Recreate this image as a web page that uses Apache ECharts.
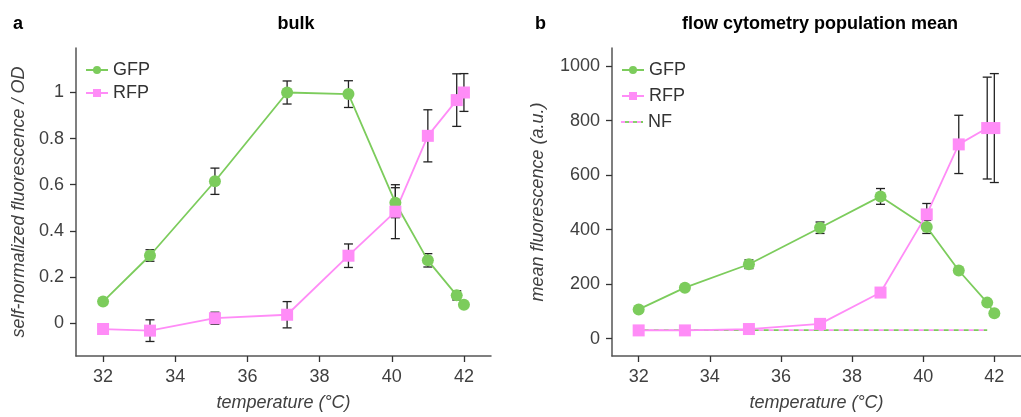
<!DOCTYPE html>
<html>
<head>
<meta charset="utf-8">
<script src="https://cdn.jsdelivr.net/npm/echarts@6/dist/echarts.min.js"></script>
<style>
html,body{margin:0;padding:0;background:#fff;}
#chart{width:1021px;height:417px;}
</style>
</head>
<body>
<div id="chart"></div>
<script>
// ---- data ----
const temps = [32, 33.3, 35.1, 37.1, 38.8, 40.1, 41.0, 41.8, 42.0];
const bulkGFP = [0.093, 0.293, 0.615, 1.0, 0.993, 0.522, 0.272, 0.12, 0.079];
const bulkGFPerr = [0.008, 0.025, 0.057, 0.05, 0.058, 0.065, 0.029, 0.02, 0.008];
const bulkRFP = [-0.026, -0.033, 0.021, 0.036, 0.292, 0.483, 0.812, 0.967, 1.0];
const bulkRFPerr = [0.015, 0.047, 0.026, 0.057, 0.051, 0.117, 0.113, 0.114, 0.082];
const flowGFP = [107, 187, 273, 407, 522, 410, 250, 132, 93];
const flowGFPerr = [5, 5, 16, 21, 29, 24, 8, 8, 5];
const flowRFP = [30, 30, 35, 54, 169, 456, 713, 773, 773];
const flowRFPerr = [6, 6, 6, 8, 15, 40, 107, 187, 200];
const nfTemps = [32, 33.3, 35.1, 37.1, 38.8, 40.1, 41.0, 41.8];
const nfGFP = [31, 31, 31, 31, 31, 31, 31, 31];
const nfRFP = [31, 31, 31, 31, 31, 31, 31, 31];
const xTicks = [32, 34, 36, 38, 40, 42];
const yTicksBulk = [0, 0.2, 0.4, 0.6, 0.8, 1];
const yTicksFlow = [0, 200, 400, 600, 800, 1000];

const GREEN = '#7ccc5c';
const PINK = '#ff8cf7';
const FONT = "'Liberation Sans', Arial, Helvetica, sans-serif";

const pairs = (xs, ys) => xs.map((x, i) => [x, ys[i]]);
const errs = (xs, ys, es) => xs.map((x, i) => [x, ys[i] - es[i], ys[i] + es[i]]);

function errRender(params, api) {
  const x = api.value(0), lo = api.value(1), hi = api.value(2);
  const p1 = api.coord([x, lo]), p2 = api.coord([x, hi]);
  const w = 4.5;
  const st = {stroke: '#222', lineWidth: 1.3};
  return {
    type: 'group',
    children: [
      {type: 'line', shape: {x1: p1[0], y1: p1[1], x2: p2[0], y2: p2[1]}, style: st},
      {type: 'line', shape: {x1: p1[0] - w, y1: p1[1], x2: p1[0] + w, y2: p1[1]}, style: st},
      {type: 'line', shape: {x1: p2[0] - w, y1: p2[1], x2: p2[0] + w, y2: p2[1]}, style: st}
    ]
  };
}

function xAxisCfg(gi) {
  return {
    type: 'value', gridIndex: gi, min: 31.25, max: 42.75,
    name: 'temperature (°C)', nameLocation: 'middle', nameGap: 38,
    nameTextStyle: {fontFamily: FONT, fontSize: 18, fontStyle: 'italic', color: '#404040'},
    axisLine: {show: true, onZero: false, lineStyle: {color: '#555', width: 1.5}},
    axisTick: {show: true, length: 6, customValues: xTicks, lineStyle: {color: '#333', width: 1.3}},
    axisLabel: {customValues: xTicks, margin: 12, fontFamily: FONT, fontSize: 18, color: '#404040',
                formatter: v => String(v)},
    splitLine: {show: false}
  };
}
function yAxisCfg(gi, min, max, ticks, name, gap) {
  return {
    type: 'value', gridIndex: gi, min: min, max: max,
    name: name, nameLocation: 'middle', nameGap: gap,
    nameTextStyle: {fontFamily: FONT, fontSize: 18, fontStyle: 'italic', color: '#404040'},
    axisLine: {show: true, onZero: false, lineStyle: {color: '#555', width: 1.5}},
    axisTick: {show: true, length: 6, customValues: ticks, lineStyle: {color: '#333', width: 1.3}},
    axisLabel: {customValues: ticks, margin: 12, fontFamily: FONT, fontSize: 18, color: '#404040',
                formatter: v => String(v)},
    splitLine: {show: false}
  };
}
function lineSeries(name, xi, data, color, symbol) {
  return {
    name: name, type: 'line', xAxisIndex: xi, yAxisIndex: xi, data: data,
    symbol: symbol, symbolSize: 12, z: 3,
    lineStyle: {color: color, width: 1.8}, itemStyle: {color: color}
  };
}
function errSeries(xi, data) {
  return {type: 'custom', xAxisIndex: xi, yAxisIndex: xi, data: data, renderItem: errRender, z: 2, silent: true};
}

const legendText = {fontFamily: FONT, fontSize: 18, color: '#333', lineHeight: 18};

const chart = echarts.init(document.getElementById('chart'), null, {renderer: 'canvas'});
chart.setOption({
  animation: false,
  backgroundColor: '#fff',
  grid: [
    {left: 76, top: 48, width: 415, height: 312},
    {left: 612, top: 48, width: 415, height: 312}
  ],
  xAxis: [xAxisCfg(0), xAxisCfg(1)],
  yAxis: [
    yAxisCfg(0, -0.143, 1.193, yTicksBulk, 'self-normalized fluorescence / OD', 48),
    yAxisCfg(1, -64, 1067, yTicksFlow, 'mean fluorescence (a.u.)', 65)
  ],
  legend: [
    {left: 85, top: 61, padding: 0, orient: 'vertical', itemWidth: 22, itemHeight: 10, itemGap: 5,
     textStyle: legendText, data: ['GFP', 'RFP']},
    {left: 621, top: 61, padding: 0, orient: 'vertical', itemWidth: 22, itemHeight: 10, itemGap: 8,
     textStyle: legendText, data: ['GFP', 'RFP']}
  ],
  graphic: [
    {type: 'text', x: 13, y: 24, style: {text: 'a', font: "bold 18px " + FONT, fill: '#000', textVerticalAlign: 'middle'}},
    {type: 'text', x: 296, y: 24, style: {text: 'bulk', font: "bold 18px " + FONT, fill: '#000', textAlign: 'center', textVerticalAlign: 'middle'}},
    {type: 'text', x: 535, y: 24, style: {text: 'b', font: "bold 18px " + FONT, fill: '#000', textVerticalAlign: 'middle'}},
    {type: 'text', x: 820, y: 24, style: {text: 'flow cytometry population mean', font: "bold 18px " + FONT, fill: '#000', textAlign: 'center', textVerticalAlign: 'middle'}},
    // NF legend entry
    {type: 'line', shape: {x1: 621, y1: 122, x2: 643, y2: 122}, style: {stroke: PINK, lineWidth: 1.8, lineDash: [4, 4]}},
    {type: 'line', shape: {x1: 621, y1: 122, x2: 643, y2: 122}, style: {stroke: GREEN, lineWidth: 1.8, lineDash: [4, 4], lineDashOffset: 4}},
    {type: 'text', x: 648, y: 122, style: {text: 'NF', font: "18px " + FONT, fill: '#333', textVerticalAlign: 'middle'}}
  ],
  series: [
    lineSeries('GFP', 0, pairs(temps, bulkGFP), GREEN, 'circle'),
    lineSeries('RFP', 0, pairs(temps, bulkRFP), PINK, 'rect'),
    errSeries(0, errs(temps, bulkGFP, bulkGFPerr)),
    errSeries(0, errs(temps, bulkRFP, bulkRFPerr)),
    {name: 'NF', type: 'line', xAxisIndex: 1, yAxisIndex: 1, data: pairs(nfTemps, nfRFP),
     symbol: 'none', z: 1, lineStyle: {color: PINK, width: 1.8, type: [5, 5]}, itemStyle: {color: PINK}},
    {name: 'NF', type: 'line', xAxisIndex: 1, yAxisIndex: 1, data: pairs(nfTemps, nfGFP),
     symbol: 'none', z: 1, lineStyle: {color: GREEN, width: 1.8, type: [5, 5], dashOffset: 5}, itemStyle: {color: GREEN}},
    lineSeries('GFP', 1, pairs(temps, flowGFP), GREEN, 'circle'),
    lineSeries('RFP', 1, pairs(temps, flowRFP), PINK, 'rect'),
    errSeries(1, errs(temps, flowGFP, flowGFPerr)),
    errSeries(1, errs(temps, flowRFP, flowRFPerr))
  ]
});
</script>
</body>
</html>
